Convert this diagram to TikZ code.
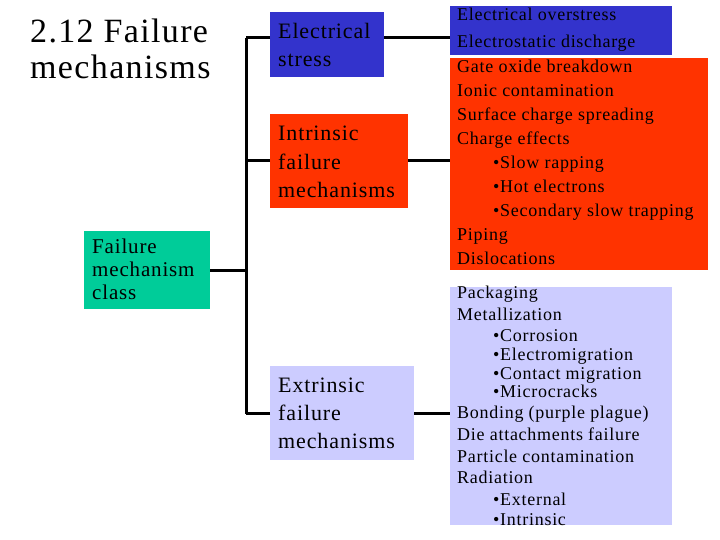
\documentclass[tikz,border=0pt]{standalone}
\usepackage{fontspec}
\setmainfont{Liberation Serif}[LetterSpace=4]
\definecolor{eblue}{HTML}{3333CC}
\definecolor{ired}{HTML}{FF3300}
\definecolor{fgreen}{HTML}{00CC99}
\definecolor{lav}{HTML}{CCCCFF}
\begin{document}
\begin{tikzpicture}[x=1pt,y=-1pt,
  box/.style={anchor=north west, inner sep=0pt, outer sep=0pt},
  conn/.style={line width=3pt},
  txt/.style={anchor=base west, inner sep=0pt, align=left},
  midtxt/.style={txt, font=\fontsize{22}{28}\selectfont},
  listtxt/.style={txt, font=\fontsize{18}{24}\selectfont},
  lavtxt/.style={txt, font=\fontsize{18}{22}\selectfont}]
\useasboundingbox[fill=white] (0,0) rectangle (720,540);
% title (anchor at baseline of last line)
\node[txt, font=\fontsize{34}{36}\selectfont] (title) at (30,79) {2.12 Failure\\mechanisms};
% boxes
\node[box, fill=eblue, minimum width=114, minimum height=65] (es) at (270,12) {};
\node[box, fill=ired, minimum width=138, minimum height=94] (ifm) at (270,114) {};
\node[box, fill=fgreen, minimum width=126, minimum height=78] (fmc) at (84,231) {};
\node[box, fill=lav, minimum width=144, minimum height=94] (efm) at (270,366) {};
\node[box, fill=eblue, minimum width=222, minimum height=49] (eo) at (450,6) {};
\node[box, fill=ired, minimum width=258, minimum height=212] (ir) at (450,58) {};
\node[box, fill=lav, minimum width=222, minimum height=238] (ex) at (450,287) {};
% box texts (anchored at baseline of last line)
\node[midtxt] (es-t) at (278,67) {Electrical\\stress};
\node[midtxt] (ifm-t) at (278,197) {Intrinsic\\failure\\mechanisms};
\node[midtxt, font=\fontsize{21}{23}\selectfont] (fmc-t) at (92,299) {Failure\\mechanism\\class};
\node[midtxt] (efm-t) at (278,448) {Extrinsic\\failure\\mechanisms};
\node[listtxt, font=\fontsize{18}{27}\selectfont] (eo-t) at (457,48) {Electrical overstress\\Electrostatic discharge};
\node[listtxt] (ir-t) at (457,264) {Gate oxide breakdown\\Ionic contamination\\Surface charge spreading\\Charge effects\\
  \hspace*{36pt}•Slow rapping\\\hspace*{36pt}•Hot electrons\\\hspace*{36pt}•Secondary slow trapping\\Piping\\Dislocations};
\node[lavtxt] (ex-t) at (457,525) {Packaging\\Metallization\\[-1pt]
  \hspace*{36pt}•Corrosion\\[-3pt]\hspace*{36pt}•Electromigration\\[-3pt]\hspace*{36pt}•Contact migration\\[-4pt]\hspace*{36pt}•Microcracks\\[-1pt]
  Bonding (purple plague)\\Die attachments failure\\Particle contamination\\[-1pt]Radiation\\
  \hspace*{36pt}•External\\[-2pt]\hspace*{36pt}•Intrinsic};
% connectors
\coordinate (bustop) at (246,38);
\coordinate (busbot) at (246,414);
\draw[conn] (bustop) -- (busbot);
\draw[conn] ([yshift=7pt]es.west) -- ([yshift=7pt]es.west -| bustop);
\draw[conn] (ifm.west) -- (ifm.west -| bustop);
\draw[conn] (efm.west) -- (efm.west -| bustop);
\draw[conn] (fmc.east) -- (fmc.east -| bustop);
\draw[conn] ([yshift=7pt]es.east) -- ([yshift=7pt]es.east -| eo.west);
\draw[conn] (ifm.east) -- (ifm.east -| ir.west);
\draw[conn] (efm.east) -- (efm.east -| ex.west);
\end{tikzpicture}
\end{document}
